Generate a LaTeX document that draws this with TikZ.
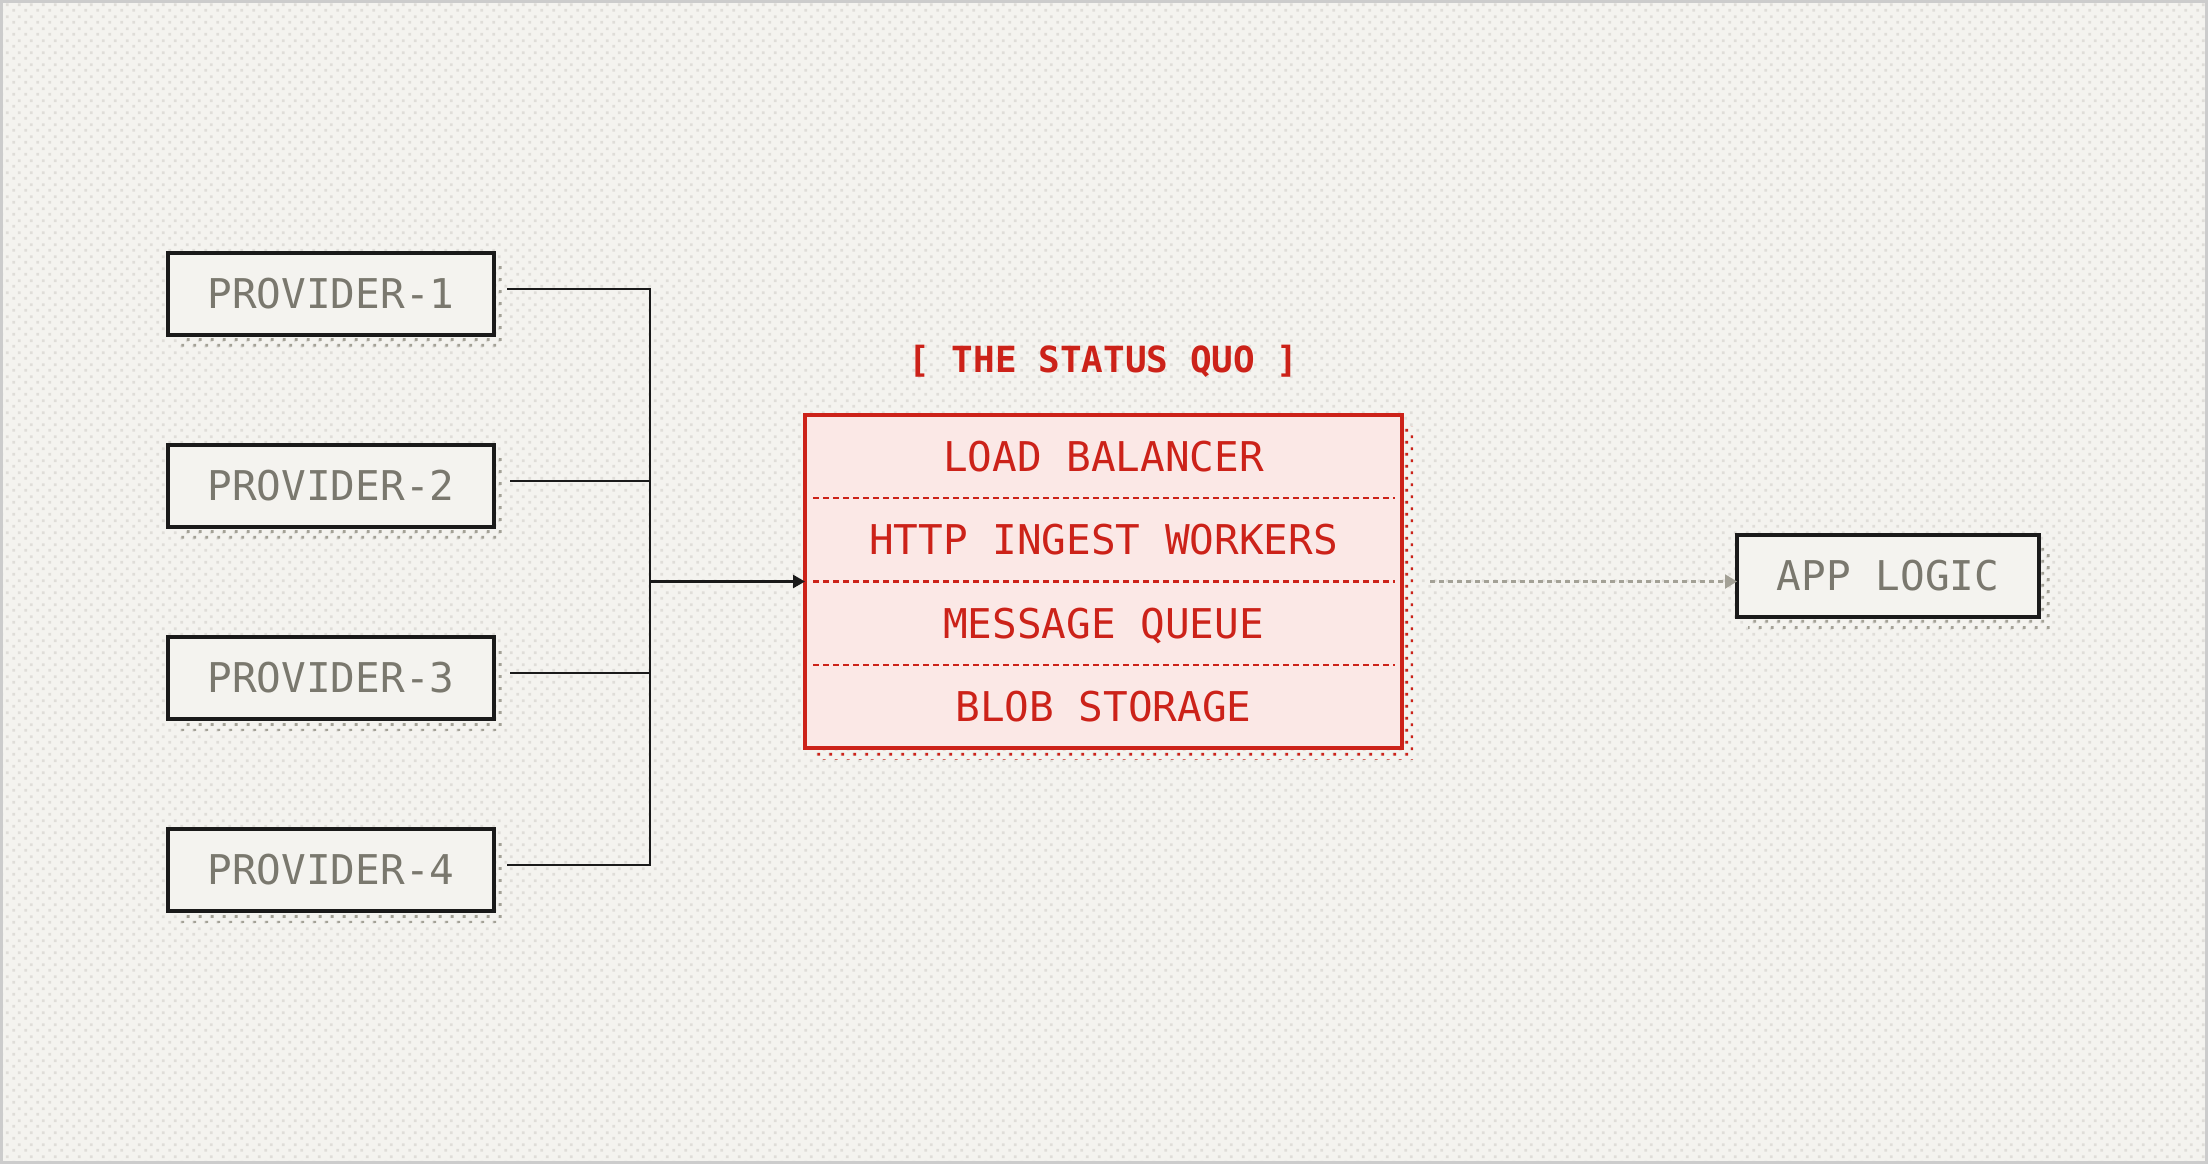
\documentclass[tikz,border=0pt]{standalone}
\usepackage{fontspec}
\newfontfamily\dmono{DejaVu Sans Mono}
\usetikzlibrary{arrows.meta,patterns,calc}

\definecolor{bgc}{HTML}{F4F3EF}
\definecolor{bgdot}{HTML}{DFDDD8}
\definecolor{ink}{HTML}{1A1A1A}
\definecolor{muted}{HTML}{7A786E}
\definecolor{shadowdot}{HTML}{A3A196}
\definecolor{redc}{HTML}{CC2219}
\definecolor{redfill}{HTML}{FBE8E6}
\definecolor{framec}{HTML}{CCCCCC}
\definecolor{arrowgrey}{HTML}{A3A196}

\pgfdeclarepatternformonly{latticedots}{\pgfqpoint{0pt}{0pt}}{\pgfqpoint{6pt}{6pt}}{\pgfqpoint{6pt}{6pt}}{%
  \pgfpathrectangle{\pgfqpoint{0.75pt}{0.75pt}}{\pgfqpoint{1.5pt}{1.5pt}}%
  \pgfpathrectangle{\pgfqpoint{3.75pt}{3.75pt}}{\pgfqpoint{1.5pt}{1.5pt}}%
  \pgfusepath{fill}}

\pgfdeclarelayer{bglayer}
\pgfdeclarelayer{shadowlayer}
\pgfsetlayers{bglayer,shadowlayer,main}

\tikzset{
  boxtext/.style={font=\dmono\fontsize{20.5pt}{24pt}\selectfont, text height=14.9pt, text depth=0pt},
  provbox/.style={boxtext, draw=ink, line width=1.6pt, fill=bgc, text=muted,
    minimum width=163pt, minimum height=41pt, inner sep=0pt, outer sep=0pt},
  corebox/.style={draw=redc, line width=1.6pt, fill=redfill,
    minimum width=298.5pt, minimum height=166.5pt, inner sep=0pt, outer sep=0pt},
  rowtext/.style={boxtext, text=redc, inner sep=0pt},
  titletext/.style={font=\dmono\bfseries\fontsize{18pt}{22pt}\selectfont, text=redc,
    text height=13.1pt, text depth=0pt, inner sep=0pt},
  wire/.style={draw=ink, line width=1.2pt},
  reddash/.style={draw=redc, line width=1.1pt, dash pattern=on 3pt off 2pt},
  greyflow/.style={draw=arrowgrey, line width=1.1pt, dash pattern=on 2.5pt off 2pt,
    -{Triangle[length=6pt,width=7pt]}},
  greyshadow/.style={pattern=latticedots, pattern color=shadowdot},
  redshadow/.style={pattern=latticedots, pattern color=redc},
}

\begin{document}
\begin{tikzpicture}[x=0.5pt,y=-0.5pt]
\useasboundingbox (0,0) rectangle (2208,1164);
\begin{pgfonlayer}{bglayer}
  \fill[bgc] (0,0) rectangle (2208,1164);
  \fill[pattern=latticedots, pattern color=bgdot] (0,0) rectangle (2208,1164);
  \draw[framec, line width=1.5pt] (1.5,1.5) rectangle (2206.5,1162.5);
\end{pgfonlayer}

% providers
\node[provbox] (p1) at (331,294) {PROVIDER-1};
\node[provbox] (p2) at (331,486) {PROVIDER-2};
\node[provbox] (p3) at (331,678) {PROVIDER-3};
\node[provbox] (p4) at (331,870) {PROVIDER-4};

% core stack
\node[corebox] (core) at (1103.5,581.5) {};
\node[titletext] (title) at (1103.5,359.5) {[ THE STATUS QUO ]};
\node[rowtext] (r1) at ($(core.north)+(0,41.6)$) {LOAD BALANCER};
\node[rowtext] (r2) at ($(core.north)+(0,124.9)$) {HTTP INGEST WORKERS};
\node[rowtext] (r3) at ($(core.north)+(0,208.1)$) {MESSAGE QUEUE};
\node[rowtext] (r4) at ($(core.north)+(0,291.4)$) {BLOB STORAGE};
\draw[reddash] ($(core.north west)+(8,83.25)$) -- ($(core.north east)+(-7,83.25)$);
\draw[reddash] ($(core.north west)+(8,166.5)$) -- ($(core.north east)+(-7,166.5)$);
\draw[reddash] ($(core.north west)+(8,249.75)$) -- ($(core.north east)+(-7,249.75)$);

% app logic
\node[provbox, minimum width=151pt] (app) at (1888,576) {APP LOGIC};

% shadows
\begin{pgfonlayer}{shadowlayer}
  \foreach \n in {p1,p2,p3,p4,app}{
    \fill[greyshadow] ($(\n.north west)+(11,11)$) rectangle ($(\n.south east)+(11,11)$);
  }
  \fill[redshadow] ($(core.north west)+(11,11)$) rectangle ($(core.south east)+(11,11)$);
\end{pgfonlayer}

% connectors
\coordinate (hub) at (650,581.5);
\draw[wire] ([shift={(13,-5)}]p1.east) -| (hub);
\draw[wire] ([shift={(16,-5)}]p2.east) -| (hub);
\draw[wire] ([shift={(16,-5)}]p3.east) -| (hub);
\draw[wire] ([shift={(13,-5)}]p4.east) -| (hub);
\draw[wire, -{Triangle[length=6pt,width=6.5pt]}] (hub) -- (core.west);
\draw[greyflow] ([xshift=14]core.east) -- (core.east -| app.west);
\end{tikzpicture}
\end{document}
